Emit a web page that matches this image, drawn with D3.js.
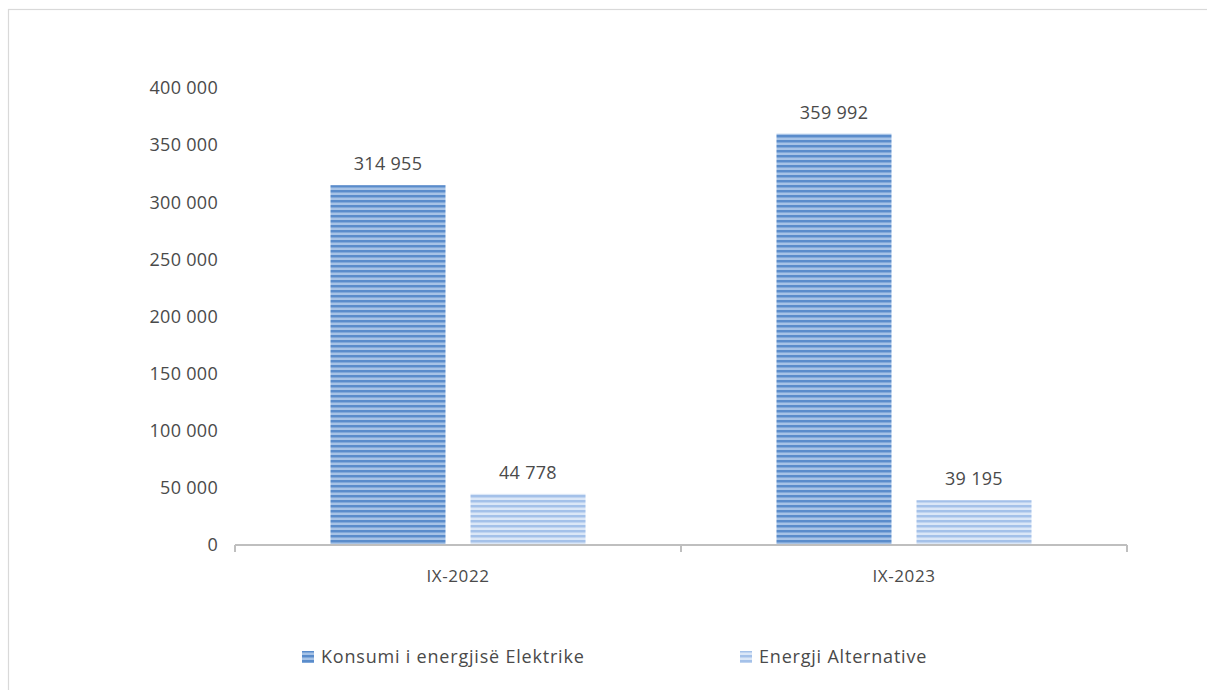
<!DOCTYPE html>
<html>
<head>
<meta charset="utf-8">
<script src="https://cdn.jsdelivr.net/npm/d3@7"></script>
<style>
body { margin:0; background:#fff; }
svg text { font-family: "Open Sans", "Noto Sans", sans-serif; fill:#4a4a4a; }
</style>
</head>
<body>
<svg id="chart" width="1207" height="690"></svg>
<script>
const categories = ["IX-2022", "IX-2023"];
const seriesNames = ["Konsumi i energjisë Elektrike", "Energji Alternative"];
const konsumi = [314955, 359992];
const alternative = [44778, 39195];
const yTicks = [0, 50000, 100000, 150000, 200000, 250000, 300000, 350000, 400000];

const svg = d3.select("#chart");
const fmt = v => d3.format(",")(v).replace(/,/g, " ");

// chart border
svg.append("rect").attr("x", 8.5).attr("y", 9.5).attr("width", 1210).attr("height", 700)
  .attr("fill", "#fff").attr("stroke", "#d9d9d9").attr("stroke-width", 1.2);

// patterns
const defs = svg.append("defs");
function stripe(id, dark, light) {
  const p = defs.append("pattern").attr("id", id).attr("patternUnits", "userSpaceOnUse")
    .attr("width", 8).attr("height", 5);
  p.append("rect").attr("width", 8).attr("height", 5).attr("fill", light);
  p.append("rect").attr("y", 0).attr("width", 8).attr("height", 2).attr("fill", dark);
  p.append("rect").attr("y", 2).attr("width", 8).attr("height", 1).attr("fill", d3.interpolateRgb(dark, light)(0.5));
}
stripe("p1", "#5a8ccb", "#a7c3e6");
stripe("p2", "#a4c1e9", "#dbe7f7");

const x0 = d3.scaleBand().domain(categories).range([235, 1127]);
const x1 = d3.scaleBand().domain([0, 1]).range([0, x0.bandwidth()]).paddingInner(0.1786).paddingOuter(0.682);
const y = d3.scaleLinear().domain([0, 400000]).range([545, 88]);

// y tick labels
svg.append("g").selectAll("text").data(yTicks).join("text")
  .attr("x", 218).attr("y", d => y(d)).attr("dy", "0.35em")
  .attr("text-anchor", "end").attr("font-size", 18).attr("letter-spacing", 0.3).text(d => fmt(d));

const series = [konsumi, alternative];
const fills = ["url(#p1)", "url(#p2)"];

categories.forEach((c, i) => {
  series.forEach((s, j) => {
    const bx = x0(c) + x1(j);
    svg.append("rect").attr("x", bx).attr("y", y(s[i])).attr("width", x1.bandwidth())
      .attr("height", y(0) - y(s[i])).attr("fill", fills[j]);
    svg.append("text").attr("x", bx + x1.bandwidth() / 2).attr("y", y(s[i]) - 15)
      .attr("text-anchor", "middle").attr("font-size", 18).attr("letter-spacing", 0.3).text(fmt(s[i]));
  });
});

// x axis
const ax = svg.append("g").attr("transform", "translate(0,545)");
ax.append("line").attr("x1", 235).attr("x2", 1127).attr("stroke", "#bfbfbf").attr("stroke-width", 2);
const bounds = [235, x0(categories[1]), 1127];
ax.selectAll("line.tk").data(bounds).join("line").attr("class", "tk")
  .attr("x1", d => d).attr("x2", d => d).attr("y1", 0).attr("y2", 7)
  .attr("stroke", "#bfbfbf").attr("stroke-width", 2);
ax.selectAll("text.cat").data(categories).join("text").attr("class", "cat")
  .attr("x", d => x0(d) + x0.bandwidth() / 2).attr("y", 37)
  .attr("text-anchor", "middle").attr("font-size", 17).attr("letter-spacing", 0.6).text(d => d);

// legend
const legX = [302, 740];
seriesNames.forEach((n, j) => {
  svg.append("rect").attr("x", legX[j]).attr("y", 651).attr("width", 12).attr("height", 12)
    .attr("fill", fills[j]);
  svg.append("text").attr("x", legX[j] + 19).attr("y", 657).attr("dy", "0.35em")
    .attr("font-size", 18).attr("letter-spacing", 0.8).text(n);
});
</script>
</body>
</html>
